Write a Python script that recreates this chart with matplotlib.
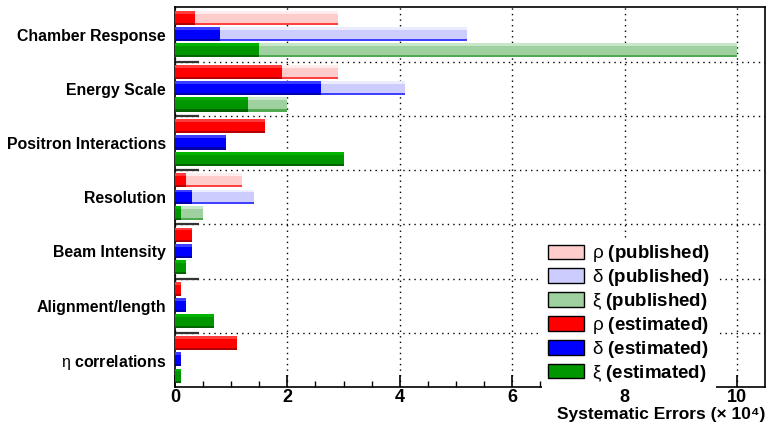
import numpy as np
import matplotlib
matplotlib.use("Agg")
import matplotlib.pyplot as plt
from matplotlib.patches import Patch

plt.rcParams["font.family"] = ["Liberation Sans", "DejaVu Sans"]
plt.rcParams["mathtext.fontset"] = "custom"
plt.rcParams["mathtext.rm"] = "Liberation Sans"
plt.rcParams["mathtext.it"] = "Liberation Sans"
plt.rcParams["mathtext.bf"] = "Liberation Sans:bold"

# systematic error sources, top to bottom
sources = ["Chamber Response", "Energy Scale", "Positron Interactions", "Resolution",
           "Beam Intensity", "Alignment/length", r"$\eta\ \mathbf{correlations}$"]

# errors in units of 1e-4
rho_pub = [2.9, 2.9, 0.0, 1.2, 0.0, 0.0, 0.0]
delta_pub = [5.2, 4.1, 0.0, 1.4, 0.0, 0.0, 0.0]
xi_pub = [10.0, 2.0, 0.0, 0.5, 0.0, 0.0, 0.0]
rho_est = [0.35, 1.9, 1.6, 0.2, 0.3, 0.1, 1.1]
delta_est = [0.8, 2.6, 0.9, 0.3, 0.3, 0.2, 0.1]
xi_est = [1.5, 1.3, 3.0, 0.1, 0.2, 0.7, 0.1]

legend_labels = [r"$\rho\ \mathbf{(published)}$", r"$\delta\ \mathbf{(published)}$",
                 r"$\xi\ \mathbf{(published)}$", r"$\rho\ \mathbf{(estimated)}$",
                 r"$\delta\ \mathbf{(estimated)}$", r"$\xi\ \mathbf{(estimated)}$"]

# (light top strip, body, dark bottom strip)
pub_colors = [("#ffecec", "#ffcccc", "#ff4040"),
              ("#ececff", "#ccccff", "#4040ff"),
              ("#c8e6c8", "#9fd09f", "#50a850")]
est_colors = [("#ff3c3c", "#ff0000", "#b40000"),
              ("#3c3cff", "#0000ff", "#0000aa"),
              ("#00b400", "#009600", "#006400")]

BAR_W = 0.26
BAR_OFF = 0.06
BAR_STEP = 0.30

fig = plt.figure(figsize=(7.67, 4.28), dpi=100)
ax = fig.add_axes([175 / 767, 41 / 428, 590 / 767, 379.5 / 428])

cat = np.arange(len(sources))


def shaded_barh(idx, values, colors, z):
    light, body, dark = colors
    top = cat + BAR_OFF + idx * BAR_STEP
    ax.barh(top + 0.10 * BAR_W, values, height=0.20 * BAR_W, color=light, linewidth=0, zorder=z)
    ax.barh(top + 0.525 * BAR_W, values, height=0.65 * BAR_W, color=body, linewidth=0, zorder=z)
    ax.barh(top + 0.925 * BAR_W, values, height=0.15 * BAR_W, color=dark, linewidth=0, zorder=z)


for i, vals in enumerate([rho_pub, delta_pub, xi_pub]):
    shaded_barh(i, vals, pub_colors[i], 2)
for i, vals in enumerate([rho_est, delta_est, xi_est]):
    shaded_barh(i, vals, est_colors[i], 3)

ax.set_xlim(0, 10.5)
ax.set_ylim(len(sources), 0)

# y: ticks on category boundaries, labels at centres
ax.set_yticks(np.arange(1, len(sources)))
ax.set_yticklabels([])
ax.set_yticks(cat + 0.5, minor=True)
ax.set_yticklabels(sources, minor=True, fontsize=11.4, fontweight="bold")
ax.tick_params(axis="y", which="major", direction="in", length=17, width=1.6, color="#333333")
ax.tick_params(axis="y", which="minor", length=0, pad=6.5)

# x: majors every 2, minors every 0.5
ax.set_xticks(np.arange(0, 11, 2))
ax.set_xticks(np.arange(0, 10.5, 0.5), minor=True)
ax.tick_params(axis="x", which="major", direction="in", length=9, width=1.2, labelsize=13, pad=1.5)
ax.tick_params(axis="x", which="minor", direction="in", length=4, width=1.0)
for lab in ax.get_xticklabels():
    lab.set_fontweight("bold")

ax.set_axisbelow(True)
ax.grid(True, which="major", color="black", linestyle=(0, (1, 3)), linewidth=1.0)

for sp in ax.spines.values():
    sp.set_linewidth(1.2)

ax.set_xlabel("Systematic Errors (× 10⁴)", fontsize=12.5, fontweight="bold",
              ha="right", va="top")
ax.xaxis.set_label_coords(1.0, -0.053)

handles = [Patch(facecolor=c[1], edgecolor="black", linewidth=1.0) for c in pub_colors + est_colors]
leg = ax.legend(handles, legend_labels, loc="upper left", bbox_to_anchor=(0.622, 0.393),
                borderaxespad=0, fontsize=13.5, frameon=True, fancybox=False,
                framealpha=1, edgecolor="none", facecolor="white",
                handlelength=1.95, handleheight=0.82, handletextpad=0.42,
                labelspacing=0.15, borderpad=0.3)
leg.set_zorder(5)

fig.savefig("out.png", dpi=100)
